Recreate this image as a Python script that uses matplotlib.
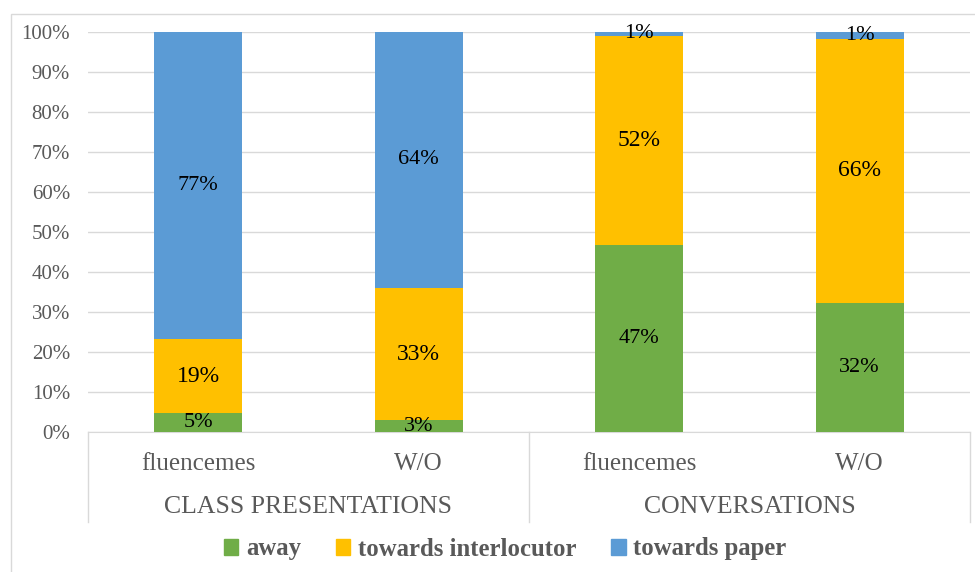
import matplotlib
matplotlib.use("Agg")
import matplotlib.pyplot as plt
from matplotlib.patches import Rectangle
from matplotlib.lines import Line2D
import matplotlib.transforms as mtransforms

categories = ["fluencemes", "W/O", "fluencemes", "W/O"]
groups = ["CLASS PRESENTATIONS", "CONVERSATIONS"]
series_names = ["away", "towards interlocutor", "towards paper"]
away = [4.7, 2.9, 46.8, 32.3]
interlocutor = [18.6, 33.2, 52.3, 66.0]
paper = [76.7, 63.9, 0.9, 1.7]
labels_away = ["5%", "3%", "47%", "32%"]
labels_inter = ["19%", "33%", "52%", "66%"]
labels_paper = ["77%", "64%", "1%", "1%"]
colors = ["#70ad47", "#ffc000", "#5b9bd5"]

plt.rcParams['font.family'] = ['Liberation Serif', 'DejaVu Serif']

W, H = 975, 572
fig = plt.figure(figsize=(W/100, H/100), dpi=100)
fig.patches.append(Rectangle((11/W, -0.01), (W-11)/W + 0.02, (H-14)/H + 0.01, transform=fig.transFigure,
                             fill=False, edgecolor="#d9d9d9", linewidth=1))

left, right, top, bottom = 88, 970, 32, 432
ax = fig.add_axes([left/W, 1-bottom/H, (right-left)/W, (bottom-top)/H])
ax.set_xlim(-0.5, 3.5)
ax.set_ylim(0, 100)

x = list(range(len(categories)))
bw = 0.40
bottoms = [0]*4
for vals, labs, col in [(away, labels_away, colors[0]), (interlocutor, labels_inter, colors[1]), (paper, labels_paper, colors[2])]:
    ax.bar(x, vals, bw, bottom=bottoms, color=col, edgecolor="none", zorder=3)
    for i in x:
        fs = 17 if col == colors[1] else 16
        ax.text(i, bottoms[i] + vals[i]/2, labs[i], ha="center", va="center", fontsize=fs, color="black", zorder=4)
    bottoms = [b + v for b, v in zip(bottoms, vals)]

ax.set_yticks(range(0, 101, 10))
ax.set_yticklabels([f"{v}%" for v in range(0, 101, 10)], fontsize=15, color="#595959")
ax.tick_params(axis="y", length=0, pad=13)
ax.tick_params(axis="x", length=0)
ax.set_xticks([])
ax.grid(axis="y", color="#d9d9d9", linewidth=1, zorder=0)
for s in ["top", "right", "left"]:
    ax.spines[s].set_visible(False)
ax.spines["bottom"].set_color("#d9d9d9")

trans = mtransforms.blended_transform_factory(ax.transData, fig.transFigure)
for i, c in enumerate(categories):
    ax.text(i, 1 - 464/H, c, transform=trans, ha="center", va="center", fontsize=18, color="#595959")
for g, gx in enumerate([0.5, 2.5]):
    ax.text(gx, 1 - 507/H, groups[g], transform=trans, ha="center", va="center", fontsize=18.5, color="#595959")
for xv in [-0.5, 1.5, 3.5]:
    fig.add_artist(Line2D([xv, xv], [1 - 432/H, 1 - 522/H], transform=trans, color="#d9d9d9", linewidth=1))

handles = [Rectangle((0, 0), 1, 1, color=c) for c in colors]
fig.legend(handles, series_names, loc="center", bbox_to_anchor=(505/W, 1 - 549/H), ncol=3, frameon=False,
           prop={"weight": "bold", "size": 17.8}, labelcolor="#595959", handlelength=0.6, handleheight=0.6,
           handletextpad=0.3, columnspacing=1.4)

fig.savefig("out.png", dpi=100)
